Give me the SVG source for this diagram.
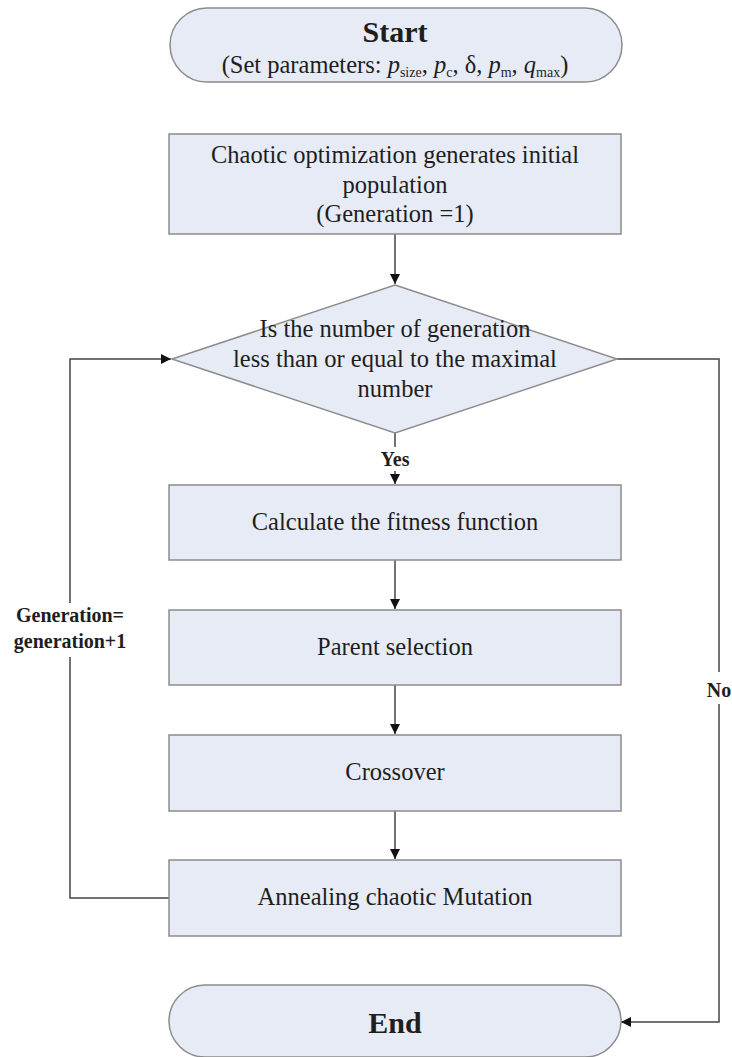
<svg xmlns="http://www.w3.org/2000/svg" width="732" height="1057" viewBox="0 0 732 1057">
<style>
.box{fill:#e6ebf5;stroke:#8c8c8c;stroke-width:1.5}
.lbl{font-size:24.5px;fill:#1e1e1e;text-anchor:middle}
.bold{font-weight:bold;fill:#1e1e1e;text-anchor:middle}
.c{fill:none;stroke:#444;stroke-width:1.5}
</style>
<defs>
<marker id="ah" viewBox="0 0 10 10" refX="10" refY="5" markerWidth="10" markerHeight="10" markerUnits="userSpaceOnUse" orient="auto">
<path d="M0,0 L10,5 L0,10 z" fill="#111"/>
</marker>
</defs>
<rect width="732" height="1057" fill="#fff"/>
<g id="connectors" font-family="Liberation Serif">
<path class="c" d="M395,234 V284" marker-end="url(#ah)"/>
<path class="c" d="M395,433 V447"/>
<path class="c" d="M395,471 V484" marker-end="url(#ah)"/>
<path class="c" d="M395,560 V609" marker-end="url(#ah)"/>
<path class="c" d="M395,685 V734" marker-end="url(#ah)"/>
<path class="c" d="M395,811 V859" marker-end="url(#ah)"/>
<path class="c" d="M169,898 H70 V657"/>
<path class="c" d="M70,603 V359 H171" marker-end="url(#ah)"/>
<path class="c" d="M617,359 H719 V672"/>
<path class="c" d="M719,704 V1022 H621" marker-end="url(#ah)"/>
<text class="bold" x="395" y="466" font-size="20">Yes</text>
<text class="bold" x="70" y="622" font-size="20">Generation=</text>
<text class="bold" x="70" y="648" font-size="20">generation+1</text>
<text class="bold" x="719" y="697" font-size="20">No</text>
</g>
<g id="start" font-family="Liberation Serif">
<rect class="box" x="170" y="8" width="452" height="74" rx="37" ry="37"/>
<text class="bold" x="395" y="42" font-size="30">Start</text>
<text class="lbl" x="395" y="73" font-size="22">(Set parameters: <tspan font-style="italic">p</tspan><tspan font-size="14" dy="4">size</tspan><tspan dy="-4">, </tspan><tspan font-style="italic">p</tspan><tspan font-size="14" dy="4">c</tspan><tspan dy="-4">, δ, </tspan><tspan font-style="italic">p</tspan><tspan font-size="14" dy="4">m</tspan><tspan dy="-4">, </tspan><tspan font-style="italic">q</tspan><tspan font-size="14" dy="4">max</tspan><tspan dy="-4">)</tspan></text>
</g>
<g id="init" font-family="Liberation Serif">
<rect class="box" x="169" y="134" width="452" height="100"/>
<text class="lbl" x="395" y="163">Chaotic optimization generates initial</text>
<text class="lbl" x="395" y="193">population</text>
<text class="lbl" x="395" y="222">(Generation =1)</text>
</g>
<g id="decision" font-family="Liberation Serif">
<polygon class="box" points="395,285 617,359 395,433 172,359"/>
<text class="lbl" x="395" y="337">Is the number of generation</text>
<text class="lbl" x="395" y="367">less than or equal to the maximal</text>
<text class="lbl" x="395" y="397">number</text>
</g>
<g id="fitness" font-family="Liberation Serif">
<rect class="box" x="169" y="485" width="452" height="75"/>
<text class="lbl" x="395" y="530">Calculate the fitness function</text>
</g>
<g id="parent" font-family="Liberation Serif">
<rect class="box" x="169" y="610" width="452" height="75"/>
<text class="lbl" x="395" y="655">Parent selection</text>
</g>
<g id="crossover" font-family="Liberation Serif">
<rect class="box" x="169" y="735" width="452" height="76"/>
<text class="lbl" x="395" y="780">Crossover</text>
</g>
<g id="mutation" font-family="Liberation Serif">
<rect class="box" x="169" y="860" width="452" height="76"/>
<text class="lbl" x="395" y="905">Annealing chaotic Mutation</text>
</g>
<g id="end" font-family="Liberation Serif">
<rect class="box" x="169" y="985" width="452" height="72" rx="36" ry="36"/>
<text class="bold" x="395" y="1033" font-size="30">End</text>
</g>
</svg>
